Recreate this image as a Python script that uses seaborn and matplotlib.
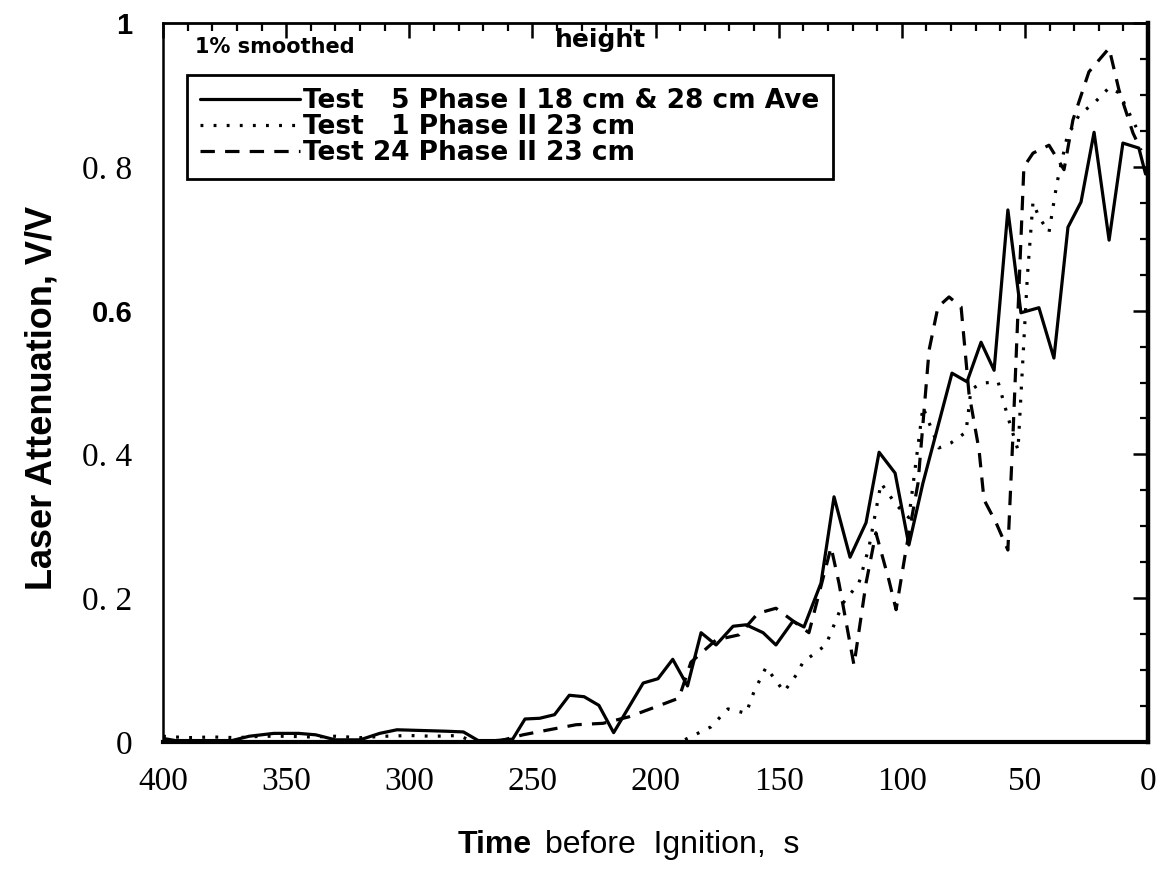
import matplotlib
matplotlib.use("Agg")
import matplotlib.pyplot as plt
import seaborn as sns
import pandas as pd
from matplotlib.ticker import MultipleLocator
from matplotlib.font_manager import FontProperties

# ---------------- data ----------------
test5_time = [400, 395, 385, 372, 365, 355, 345, 338, 330, 320, 312, 305, 295, 285, 278, 272, 265,
              258, 253, 247, 241, 235, 229, 223, 217, 205, 199, 193, 187, 181.5, 175.4, 168.5, 163.2,
              156.3, 151.1, 144.2, 139.7, 132.8, 127.5, 121.0, 114.5, 109.2, 102.7, 97.1, 91.4, 79.6,
              73.5, 67.8, 62.5, 56.9, 51.6, 44.3, 38.2, 32.5, 27.2, 21.9, 15.8, 10.2, 3.7, 1.0]
test5_val = [0.005, 0.002, 0.002, 0.002, 0.008, 0.012, 0.012, 0.010, 0.003, 0.003, 0.012, 0.017,
             0.016, 0.015, 0.014, 0.002, 0.002, 0.004, 0.032, 0.033, 0.038, 0.065, 0.063, 0.051,
             0.013, 0.082, 0.088, 0.115, 0.078, 0.152, 0.135, 0.161, 0.163, 0.152, 0.135, 0.168,
             0.160, 0.221, 0.341, 0.257, 0.305, 0.403, 0.374, 0.274, 0.360, 0.513, 0.501, 0.556,
             0.517, 0.740, 0.597, 0.604, 0.534, 0.716, 0.751, 0.848, 0.698, 0.833, 0.826, 0.790]

test1_time = [400, 390, 380, 370, 360, 350, 340, 330, 320, 310, 300, 290, 280, 275, 268, 190,
              177.5, 170.6, 163.2, 160.0, 155.1, 147.8, 142.9, 140.1, 130.8, 123.9, 117.4, 113.3,
              108.4, 102.3, 97.1, 91.4, 84.9, 80.0, 73.9, 71.9, 67.8, 60.9, 56.9, 52.8, 49.0, 46.7,
              44.3, 40.2, 37.0, 32.5, 30.5, 28.0, 21.5, 15.8, 11.8, 7.7, 4.8]
test1_val = [0.008, 0.006, 0.007, 0.006, 0.008, 0.008, 0.007, 0.008, 0.006, 0.008, 0.009, 0.008,
             0.009, 0.002, 0.000, 0.000, 0.021, 0.046, 0.040, 0.070, 0.104, 0.070, 0.093, 0.111,
             0.135, 0.193, 0.221, 0.271, 0.360, 0.330, 0.312, 0.466, 0.409, 0.416, 0.431, 0.490,
             0.499, 0.501, 0.452, 0.406, 0.647, 0.751, 0.730, 0.709, 0.777, 0.847, 0.855, 0.872,
             0.890, 0.910, 0.903, 0.875, 0.855]

test24_time = [265, 253.8, 243.2, 232.3, 221.3, 210.8, 199.8, 190.5, 185.6, 175.4, 166.1, 158.4,
               151.1, 137.7, 128.7, 125.5, 119.4, 114.5, 110.5, 105.2, 102.3, 98.3, 93.4, 88.9,
               85.3, 80.8, 75.9, 72.7, 68.6, 66.6, 61.7, 56.9, 54.8, 50.4, 46.7, 40.2, 34.1, 30.5,
               24.0, 15.8, 11.8, 6.1, 2.8]
test24_val = [0.000, 0.010, 0.017, 0.024, 0.026, 0.035, 0.049, 0.061, 0.111, 0.142, 0.149, 0.179,
              0.186, 0.152, 0.271, 0.221, 0.107, 0.221, 0.291, 0.225, 0.184, 0.267, 0.360, 0.545,
              0.605, 0.619, 0.605, 0.485, 0.406, 0.337, 0.305, 0.267, 0.430, 0.800, 0.819, 0.830,
              0.796, 0.865, 0.932, 0.965, 0.907, 0.847, 0.823]

series_labels = ["Test   5 Phase I 18 cm & 28 cm Ave",
                 "Test   1 Phase II 23 cm",
                 "Test 24 Phase II 23 cm"]
x_ticks = [400, 350, 300, 250, 200, 150, 100, 50, 0]
x_tick_labels = ["400", "350", "300", "250", "200", "150", "100", "50", "0"]
y_ticks = [0, 0.2, 0.4, 0.6, 0.8, 1.0]
y_tick_labels = ["0", "0. 2", "0. 4", "0.6", "0. 8", "1"]

# ---------------- figure ----------------
sns.set_theme(style="white")
plt.rcParams["font.family"] = ["DejaVu Sans"]
plt.rcParams["text.color"] = "black"
plt.rcParams["axes.labelcolor"] = "black"
plt.rcParams["xtick.color"] = "black"
plt.rcParams["ytick.color"] = "black"
plt.rcParams["legend.labelcolor"] = "black"

W, H = 1168, 881
fig = plt.figure(figsize=(W / 100, H / 100), dpi=100)
L, R, T, B = 163, 1148, 23, 742
ax = fig.add_axes([L / W, 1 - B / H, (R - L) / W, (B - T) / H])

frames = [
    (test5_time, test5_val, "-"),
    (test1_time, test1_val, (0, (0.9, 3.2))),
    (test24_time, test24_val, (0, (4.5, 3.2))),
]
handles = []
for tt, vv, ls in frames:
    df = pd.DataFrame({"time": tt, "val": vv})
    sns.lineplot(data=df, x="time", y="val", ax=ax, color="black", lw=2.3,
                 estimator=None, sort=False)
    ln = ax.lines[-1]
    ln.set_linestyle(ls)
    handles.append(ln)

ax.set_xlim(400, 0)
ax.set_ylim(0, 1)
ax.set_xlabel("")
ax.set_ylabel("")
ax.xaxis.set_major_locator(MultipleLocator(50))
ax.xaxis.set_minor_locator(MultipleLocator(10))
ax.yaxis.set_major_locator(MultipleLocator(0.2))
ax.yaxis.set_minor_locator(MultipleLocator(0.05))
ax.set_xticks(x_ticks)
ax.set_xticklabels(x_tick_labels)
ax.set_yticks(y_ticks)
ax.set_yticklabels(y_tick_labels)

ax.tick_params(which="both", direction="in", top=True, right=True, color="black",
               labelcolor="black")
ax.tick_params(which="major", length=11, width=1.8)
ax.tick_params(which="minor", length=6, width=1.6)
ax.tick_params(axis="x", which="major", pad=18)
ax.tick_params(axis="y", which="major", pad=22)

serif = FontProperties(family="Liberation Serif", size=24)
for lab in ax.get_xticklabels():
    lab.set_fontproperties(serif)
for lab in ax.get_yticklabels():
    txt = lab.get_text()
    if txt in ("0.6", "1"):
        lab.set_fontproperties(FontProperties(family="Liberation Sans", weight="bold", size=21))
    else:
        lab.set_fontproperties(serif)

for side, lw in (("left", 1.8), ("top", 2.0), ("right", 3.2), ("bottom", 3.0)):
    ax.spines[side].set_visible(True)
    ax.spines[side].set_color("black")
    ax.spines[side].set_linewidth(lw)

leg = ax.legend(handles=handles, labels=series_labels, loc="upper left",
                bbox_to_anchor=(187 / W, 1 - 75 / H), bbox_transform=fig.transFigure,
                frameon=True, fancybox=False, framealpha=1, edgecolor="black",
                borderaxespad=0, borderpad=0.5, handlelength=3.8, handletextpad=0.1,
                labelspacing=0.0,
                prop=FontProperties(family="DejaVu Sans", weight="bold", size=19))
leg.get_frame().set_linewidth(2.0)
for t in leg.get_texts():
    t.set_color("black")

fig.text(195 / W, 1 - 47 / H, "1% smoothed", fontsize=15, fontweight="bold",
         family="DejaVu Sans", ha="left", va="center", color="black")
fig.text(555 / W, 1 - 40 / H, "height", fontsize=18, fontweight="bold",
         family="DejaVu Sans", ha="left", va="center", color="black")

fig.text(42 / W, 1 - 398 / H, "Laser Attenuation, V/V", rotation=90, fontsize=26,
         fontweight="bold", family="Liberation Sans", ha="center", va="center", color="black")

fig.text(532 / W, 1 - 845 / H, "Time", fontsize=23, fontweight="bold",
         family="Liberation Sans", ha="right", va="center", color="black")
fig.text(545 / W, 1 - 845 / H, "before  Ignition,  s", fontsize=23,
         family="Liberation Sans", ha="left", va="center", color="black")

fig.savefig("out.png", dpi=100, facecolor="white")
